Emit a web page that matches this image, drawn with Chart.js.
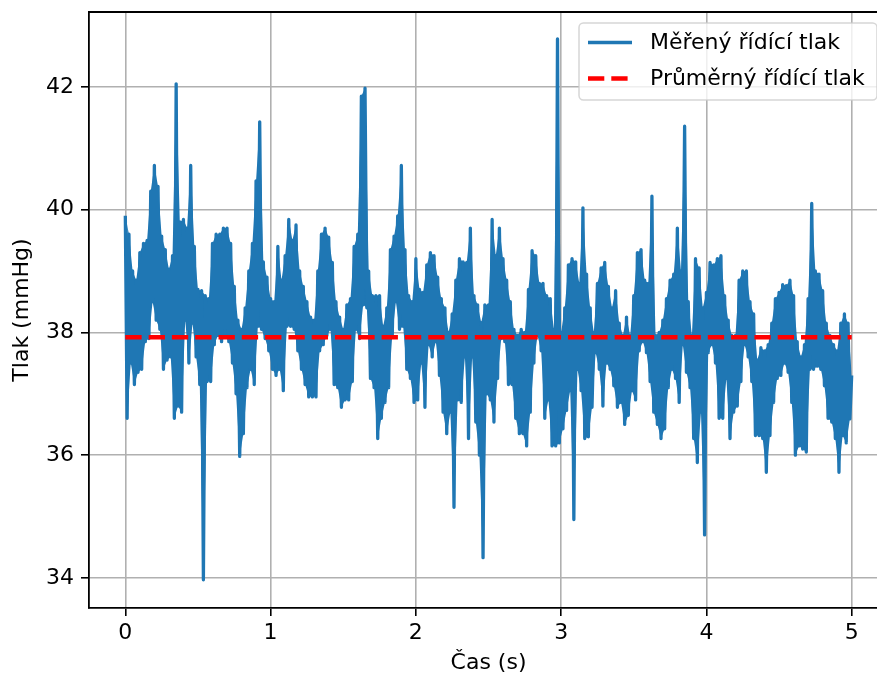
<!DOCTYPE html>
<html>
<head>
<meta charset="utf-8">
<script src="https://cdn.jsdelivr.net/npm/chart.js@4/dist/chart.umd.min.js"></script>
<style>
  html, body { margin: 0; padding: 0; background: #fff; overflow: hidden; }
  #wrap { width: 900px; height: 676px; }
</style>
</head>
<body>
<div id="wrap"><canvas id="graf" width="900" height="676"></canvas></div>
<script>
// sampled every 25 ms: upper and lower value within each window
const windowStep = 0.025;
const highs = [
  39.9, 39.6, 39.0, 38.85, 39.3, 39.45, 39.5, 40.3, 40.72, 40.38,
  39.57, 39.35, 39.03, 39.25, 42.05, 39.8, 39.84, 39.7, 40.72, 39.4,
  38.7, 38.68, 38.6, 38.55, 39.45, 39.6, 39.6, 39.7, 39.7, 39.45,
  38.75, 38.2, 38.05, 38.4, 39.0, 39.45, 40.47, 41.43, 39.15, 38.9,
  38.55, 38.5, 39.4, 38.85, 39.25, 39.84, 39.5, 39.75, 39.0, 38.75,
  38.5, 38.25, 38.2, 39.0, 39.6, 39.7, 39.55, 39.14, 38.5, 38.25,
  38.05, 38.45, 38.55, 39.4, 39.6, 41.85, 41.98, 39.0, 38.6, 38.6,
  38.6, 38.1, 38.4, 39.35, 39.57, 39.9, 40.72, 39.35, 38.6, 38.5,
  39.2, 38.7, 38.65, 39.1, 39.3, 39.25, 38.9, 38.55, 38.4, 38.0,
  38.3, 38.85, 39.2, 39.15, 39.14, 39.7, 38.6, 38.45, 38.16, 38.45,
  38.45, 39.84, 39.25, 39.7, 39.2, 38.85, 38.5, 38.05, 37.95, 38.05,
  38.0, 38.7, 39.33, 39.25, 38.8, 38.8, 38.6, 38.55, 38.05, 42.78,
  38.0, 38.4, 39.1, 39.2, 39.15, 38.8, 40.03, 38.95, 38.4, 38.0,
  38.8, 39.05, 39.14, 38.75, 38.4, 38.68, 38.15, 37.95, 38.25, 37.95,
  38.6, 39.3, 39.35, 38.85, 38.8, 40.22, 37.95, 38.0, 38.2, 38.55,
  38.85, 38.95, 39.7, 39.0, 41.36, 38.5, 37.95, 39.2, 39.05, 38.4,
  38.65, 39.14, 39.1, 39.2, 39.25, 38.6, 38.2, 37.95, 37.95, 38.85,
  39.0, 39.0, 38.5, 38.3, 37.55, 37.75, 37.7, 37.8, 38.15, 38.55,
  38.65, 38.78, 38.76, 38.85, 38.6, 37.85, 37.6, 37.8, 38.55, 40.1,
  39.0, 38.95, 38.68, 38.15, 37.95, 37.8, 37.7, 38.15, 38.3, 38.15
];
const lows = [
  36.6, 37.5, 37.15, 37.35, 37.4, 37.85, 37.9, 38.5, 38.2, 38.05,
  37.4, 37.55, 37.6, 36.6, 36.8, 36.7, 38.2, 37.5, 38.15, 37.6,
  37.15, 33.97, 37.2, 37.2, 37.8, 37.95, 37.85, 37.95, 37.85, 37.5,
  37.0, 35.98, 36.35, 37.1, 37.4, 37.15, 38.1, 38.05, 37.9, 37.7,
  37.4, 37.3, 37.4, 37.05, 38.1, 38.1, 38.05, 37.7, 37.4, 37.15,
  36.95, 36.95, 36.95, 37.7, 37.8, 37.95, 38.05, 37.15, 37.1, 36.78,
  36.9, 36.9, 37.2, 38.05, 37.9, 38.45, 38.4, 37.25, 37.1, 36.27,
  36.6, 36.86, 37.1, 37.95, 38.5, 38.05, 38.1, 37.4, 37.25, 36.86,
  36.9, 37.5, 36.78, 37.8, 37.6, 37.85, 37.3, 36.7, 36.35, 36.7,
  35.15, 36.9, 36.86, 37.6, 36.27, 37.6, 36.54, 36.0, 34.33, 37.0,
  36.9, 36.54, 37.25, 37.9, 37.85, 37.15, 37.15, 36.6, 36.35, 36.35,
  36.15, 36.7, 37.5, 37.95, 37.7, 36.6, 36.9, 36.15, 36.15, 36.2,
  36.43, 36.73, 37.05, 34.95, 37.4, 37.05, 36.27, 36.3, 36.78, 37.67,
  37.4, 36.8, 37.5, 37.4, 37.13, 36.78, 36.86, 36.5, 36.65, 37.05,
  36.9, 37.7, 37.85, 37.67, 37.2, 36.7, 36.5, 36.27, 36.43, 37.1,
  37.4, 37.25, 36.86, 37.8, 37.35, 37.1, 36.27, 35.88, 36.7, 34.7,
  37.67, 37.8, 37.5, 36.6, 36.6, 37.25, 36.27, 36.7, 36.8, 37.2,
  37.8, 37.6, 37.2, 36.32, 36.32, 36.27, 35.72, 36.32, 36.86, 37.25,
  37.3, 37.5, 37.35, 36.86, 36.0, 36.15, 36.1, 36.05, 37.4, 37.4,
  37.45, 37.4, 37.13, 36.6, 36.54, 36.27, 35.72, 36.32, 36.2, 36.59
];
const endTime = 5;
const endValue = 37.3;
const meanPressure = 37.92;

const xTicks = [0, 1, 2, 3, 4, 5];
const yTicks = [34, 36, 38, 40, 42];

// zigzag through every window, plus the two envelopes for the solid band
const measured = [];
const upper = [];
const lower = [];
for (let k = 0; k < highs.length; k++) {
  const tHigh = k * windowStep;
  const tLow = k * windowStep + windowStep / 2;
  measured.push({ x: tHigh, y: highs[k] });
  measured.push({ x: tLow, y: lows[k] });
  upper.push({ x: tHigh, y: highs[k] });
  lower.push({ x: tLow, y: lows[k] });
}
measured.push({ x: endTime, y: endValue });
upper.push({ x: endTime, y: endValue });
lower.push({ x: endTime, y: endValue });

const FONT = 'DejaVu Sans';
Chart.defaults.font.family = FONT;
Chart.defaults.font.size = 22;
Chart.defaults.color = '#000';

// no extra room for half tick labels at the ends of the axes
function noLabelPadding(s) {
  s.paddingTop = 0;
  s.paddingBottom = 0;
  s.paddingLeft = 0;
  s.paddingRight = 0;
}

// top/right spines, which chart.js does not draw
const frame = {
  id: 'frame',
  afterDraw(chart) {
    const a = chart.chartArea, ctx = chart.ctx;
    ctx.save();
    ctx.strokeStyle = '#000';
    ctx.lineWidth = 1.8;
    ctx.beginPath();
    ctx.moveTo(a.left, a.top);
    ctx.lineTo(a.right, a.top);
    ctx.lineTo(a.right, a.bottom);
    ctx.stroke();
    ctx.restore();
  }
};

// boxed legend in the upper right corner
const legendBox = {
  id: 'legendBox',
  afterDraw(chart) {
    const ctx = chart.ctx;
    const x0 = 579, y0 = 23, w = 298, h = 77, r = 4.4;
    ctx.save();
    ctx.beginPath();
    ctx.roundRect(x0, y0, w, h, r);
    ctx.fillStyle = 'rgba(255,255,255,0.8)';
    ctx.fill();
    ctx.strokeStyle = 'rgba(204,204,204,0.8)';
    ctx.lineWidth = 1.5;
    ctx.stroke();

    const rows = [
      { y: 42.5, ds: chart.data.datasets[0] },
      { y: 78.5, ds: chart.data.datasets[1] }
    ];
    rows.forEach(row => {
      ctx.beginPath();
      ctx.strokeStyle = row.ds.borderColor;
      ctx.lineWidth = row.ds.borderWidth;
      ctx.setLineDash(row.ds.borderDash || []);
      ctx.lineCap = 'butt';
      ctx.moveTo(588, row.y);
      ctx.lineTo(632, row.y);
      ctx.stroke();
      ctx.setLineDash([]);
      ctx.fillStyle = '#000';
      ctx.font = '22px "' + FONT + '"';
      ctx.textBaseline = 'middle';
      ctx.textAlign = 'left';
      ctx.fillText(row.ds.label, 650, row.y + 1);
    });
    ctx.restore();
  }
};

new Chart(document.getElementById('graf'), {
  type: 'line',
  data: {
    datasets: [
      {
        label: 'Měřený řídící tlak',
        data: measured,
        borderColor: '#1f77b4',
        borderWidth: 3.3,
        borderJoinStyle: 'round',
        pointRadius: 0,
        tension: 0,
        order: 1
      },
      {
        label: 'Průměrný řídící tlak',
        data: [{ x: 0, y: meanPressure }, { x: endTime, y: meanPressure }],
        borderColor: '#ff0000',
        borderWidth: 4.4,
        borderDash: [16.3, 7],
        borderCapStyle: 'butt',
        pointRadius: 0,
        order: 0
      },
      {
        label: 'upper',
        data: upper,
        borderWidth: 0,
        pointRadius: 0,
        backgroundColor: '#1f77b4',
        fill: 3,
        order: 2
      },
      {
        label: 'lower',
        data: lower,
        borderWidth: 0,
        pointRadius: 0,
        fill: false,
        order: 3
      }
    ]
  },
  options: {
    responsive: false,
    devicePixelRatio: 1,
    animation: false,
    layout: { padding: { top: 12, right: 12, left: 0, bottom: 0 } },
    plugins: { legend: { display: false }, tooltip: { enabled: false } },
    scales: {
      x: {
        type: 'linear',
        min: -0.25,
        max: 5.25,
        afterBuildTicks: s => { s.ticks = xTicks.map(v => ({ value: v })); },
        afterFit: s => { s.height = 68; noLabelPadding(s); },
        grid: { color: '#b0b0b0', lineWidth: 1.6, tickColor: '#000', tickLength: 8, tickWidth: 1.6 },
        border: { color: '#000', width: 1.8 },
        ticks: { padding: 4, maxRotation: 0, autoSkip: false, callback: v => String(v) },
        title: { display: true, text: 'Čas (s)', padding: { top: 0, bottom: 0 } }
      },
      y: {
        min: 33.51,
        max: 43.22,
        afterBuildTicks: s => { s.ticks = yTicks.map(v => ({ value: v })); },
        afterFit: s => { s.width = 89; noLabelPadding(s); },
        grid: { color: '#b0b0b0', lineWidth: 1.6, tickColor: '#000', tickLength: 8, tickWidth: 1.6 },
        border: { color: '#000', width: 1.8 },
        ticks: { padding: 7, autoSkip: false, callback: v => String(v) },
        title: { display: true, text: 'Tlak (mmHg)', padding: { top: 9, bottom: 0 } }
      }
    }
  },
  plugins: [frame, legendBox]
});
</script>
</body>
</html>
